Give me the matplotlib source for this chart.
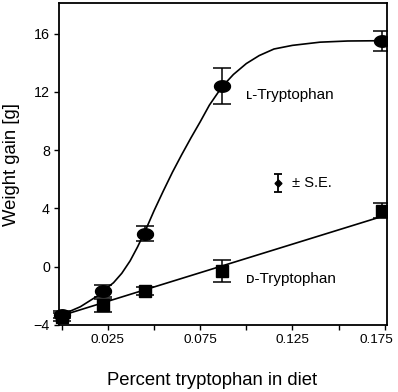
import numpy as np
import matplotlib
matplotlib.use("Agg")
import matplotlib.pyplot as plt
import matplotlib.transforms as mtransforms

plt.rcParams['font.family'] = ['Liberation Sans', 'DejaVu Sans']

# Datos
x_diet = [0.0, 0.0222, 0.045, 0.0868, 0.1735]
l_gain = [-3.3, -1.68, 2.28, 12.4, 15.5]
l_se = [0.25, 0.4, 0.5, 1.25, 0.7]
d_gain = [-3.45, -2.65, -1.66, -0.29, 3.85]
d_se = [0.25, 0.45, 0.3, 0.77, 0.5]

# Curva ajustada (L) y recta (D)
l_curve_x = [0.0, 0.01, 0.02, 0.0222, 0.028, 0.0325, 0.037, 0.041, 0.045,
             0.05, 0.055, 0.06, 0.065, 0.07, 0.075, 0.08, 0.0868, 0.093,
             0.1, 0.107, 0.115, 0.125, 0.14, 0.155, 0.1735]
l_curve_y = [-3.3, -2.75, -1.95, -1.68, -1.1, -0.45, 0.4, 1.35, 2.4,
             3.85, 5.2, 6.5, 7.7, 8.85, 9.95, 11.1, 12.35, 13.2,
             13.95, 14.5, 14.95, 15.2, 15.42, 15.5, 15.52]
d_line_x = [0.0, 0.1735]
d_line_y = [-3.35, 3.45]

x_ticks = [0.0, 0.025, 0.05, 0.075, 0.1, 0.125, 0.15, 0.175]
x_labels = ['', '0.025', '', '0.075', '', '0.125', '', '0.175']
y_ticks = [-4, 0, 4, 8, 12, 16]

fig = plt.figure(figsize=(3.98, 3.92), dpi=100)
ax = fig.add_axes([0.148, 0.171, 0.824, 0.821])

# marcador elipse ancho para L
t = np.linspace(0, 2 * np.pi, 40)
ellipse = np.column_stack([np.cos(t), 0.72 * np.sin(t)])

ax.plot(l_curve_x, l_curve_y, color='black', lw=1.2, solid_joinstyle='round')
ax.plot(d_line_x, d_line_y, color='black', lw=1.2)

# el ultimo punto queda cortado por el borde derecho, como en el original
for i in range(len(x_diet)):
    clip = i == len(x_diet) - 1
    for y, se, mk, ms in [(l_gain, l_se, ellipse, 11.5), (d_gain, d_se, 's', 8)]:
        eb = ax.errorbar([x_diet[i]], [y[i]], yerr=[se[i]], fmt='none',
                         ecolor='black', elinewidth=1.1, capsize=6.8,
                         capthick=1.1)
        for art in eb.lines[1] + eb.lines[2]:
            art.set_clip_on(clip)
        ax.plot([x_diet[i]], [y[i]], ls='none', marker=mk, markersize=ms,
                color='black', clip_on=clip)

# simbolo de S.E.
ax.errorbar([0.117], [5.74], yerr=[0.62], fmt='D', color='black',
            markersize=3.5, elinewidth=1.3, capsize=2.6, capthick=1.3)
ax.text(0.1247, 5.74, '\u00b1 S.E.', fontsize=10.5, va='center', ha='left')

ax.text(0.0998, 11.79, '\u029f-Tryptophan', fontsize=11, va='center', ha='left')
ax.text(0.0998, -0.86, '\u1d05-Tryptophan', fontsize=11, va='center', ha='left')

ax.set_xlim(-0.0016, 0.1762)
ax.set_ylim(-4, 18.1)
ax.set_xticks(x_ticks)
ax.set_xticklabels(x_labels)
ax.set_yticks(y_ticks)
ax.tick_params(direction='out', length=3.5, width=1, labelsize=9.7, pad=3)
ax.tick_params(axis='y', labelsize=10.3)

# la ultima etiqueta del eje x esta corrida a la izquierda en el original
last = ax.get_xticklabels()[-1]
last.set_transform(last.get_transform() +
                   mtransforms.ScaledTranslation(-8 / 100, 0, fig.dpi_scale_trans))

for s in ax.spines.values():
    s.set_linewidth(1.3)

ax.set_xlabel('Percent tryptophan in diet', fontsize=13.3)
ax.set_ylabel('Weight gain [g]', fontsize=13.3)
ax.xaxis.set_label_coords(0.466, -0.145)
ax.yaxis.set_label_coords(-0.12, 0.5)

fig.savefig('out.png', dpi=100)
